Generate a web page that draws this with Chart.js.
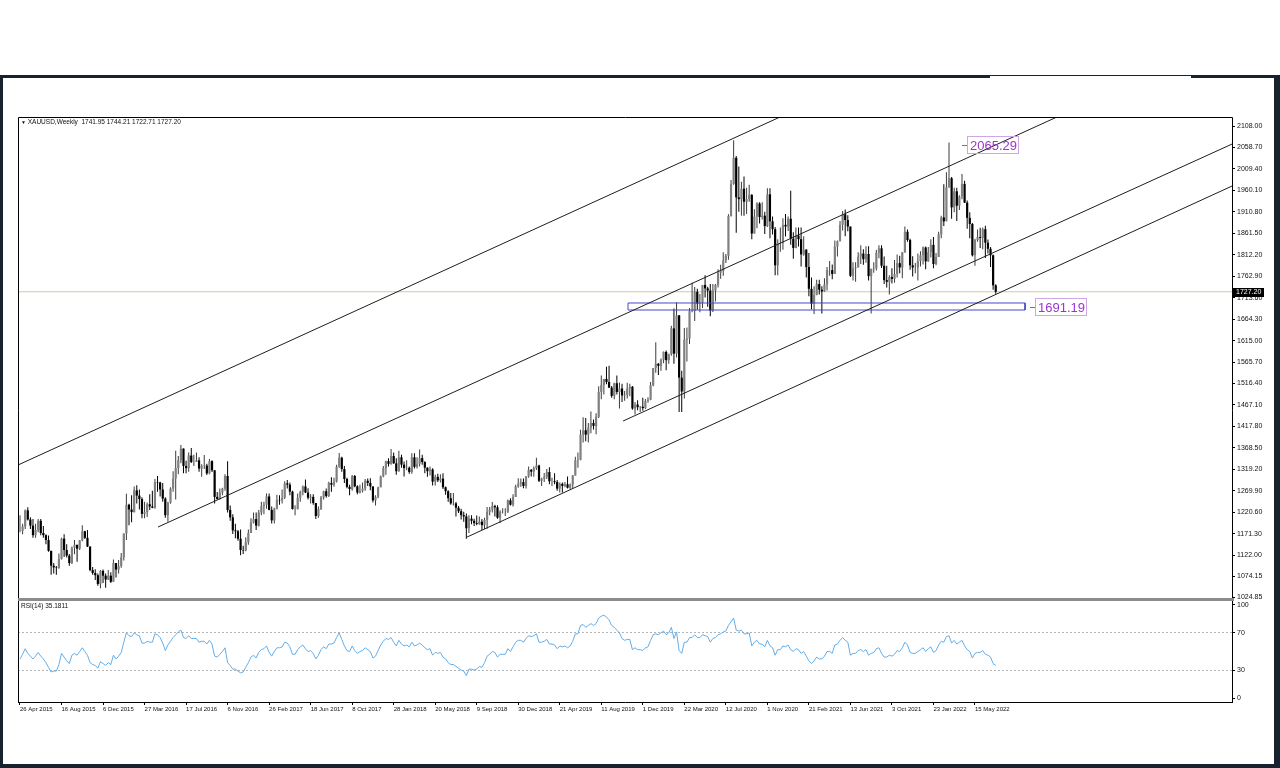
<!DOCTYPE html>
<html><head><meta charset="utf-8">
<script src="https://cdn.jsdelivr.net/npm/chart.js@4.4.0/dist/chart.umd.min.js"></script>
<style>
html,body{margin:0;padding:0;background:#fff;width:1280px;height:768px;overflow:hidden;font-family:"Liberation Sans",Arial,sans-serif;}
canvas{position:absolute;left:0;top:0;}
.frame{position:absolute;background:#17222f;}
.txt{position:absolute;font-size:6.5px;line-height:7px;color:#111;white-space:nowrap;}
</style></head><body>
<div class="frame" style="left:0;top:75px;width:990px;height:3px"></div>
<div class="frame" style="left:990px;top:75px;width:201px;height:1px"></div>
<div class="frame" style="left:1191px;top:75px;width:89px;height:3px"></div>
<div class="frame" style="left:0;top:75px;width:3px;height:693px"></div>
<div class="frame" style="left:1274px;top:75px;width:6px;height:693px"></div>
<div class="frame" style="left:0;top:764px;width:1280px;height:4px"></div>
<canvas id="price" width="1280" height="768"></canvas>
<canvas id="rsi" width="1280" height="768"></canvas>
<div class="txt" style="left:21px;top:118px"><span style="font-size:5px">&#9660;</span> XAUUSD,Weekly&nbsp; 1741.95 1744.21 1722.71 1727.20</div>
<div class="txt" style="left:21px;top:602px">RSI(14) 35.1811</div>
<script>
// ---------- data ----------
const tickLabels = ['26 Apr 2015','16 Aug 2015','6 Dec 2015','27 Mar 2016','17 Jul 2016','6 Nov 2016','26 Feb 2017','18 Jun 2017','8 Oct 2017','28 Jan 2018','20 May 2018','9 Sep 2018','30 Dec 2018','21 Apr 2019','11 Aug 2019','1 Dec 2019','22 Mar 2020','12 Jul 2020','1 Nov 2020','21 Feb 2021','13 Jun 2021','3 Oct 2021','23 Jan 2022','15 May 2022'];
const tickStep = 16;
const priceTickLabels = ['2108.00','2058.70','2009.40','1960.10','1910.80','1861.50','1812.20','1762.90','1713.60','1664.30','1615.00','1565.70','1516.40','1467.10','1417.80','1368.50','1319.20','1269.90','1220.60','1171.30','1122.00','1074.15','1024.85'];
const rsiTicks = [0, 30, 70, 100];

const opens = [1178,1178,1188,1225,1204,1190,1168,1180,1201,1173,
1168,1157,1132,1098,1094,1093,1113,1160,1134,1121,
1104,1139,1146,1137,1156,1177,1162,1142,1088,1081,
1076,1056,1086,1075,1066,1075,1061,1104,1089,1097,
1117,1172,1238,1227,1221,1271,1259,1251,1217,1221,
1239,1234,1231,1290,1289,1273,1252,1214,1243,1275,
1298,1322,1340,1367,1327,1322,1351,1336,1336,1340,
1321,1327,1328,1310,1338,1317,1256,1251,1266,1275,
1304,1226,1209,1179,1177,1160,1134,1133,1152,1173,
1197,1205,1190,1220,1234,1238,1257,1226,1202,1229,
1249,1248,1254,1287,1284,1268,1228,1228,1254,1268,
1280,1266,1254,1256,1242,1212,1228,1255,1269,1258,
1288,1284,1291,1325,1346,1320,1297,1279,1274,1304,
1280,1266,1270,1275,1293,1288,1280,1248,1256,1278,
1303,1322,1338,1332,1350,1333,1315,1347,1330,1322,
1323,1313,1347,1325,1332,1345,1336,1323,1315,1319,
1291,1302,1294,1298,1278,1269,1253,1241,1241,1231,
1223,1214,1211,1184,1206,1201,1196,1194,1199,1191,
1203,1222,1227,1235,1232,1208,1222,1222,1222,1248,
1238,1256,1280,1287,1290,1281,1303,1318,1314,1322,
1328,1293,1298,1302,1313,1292,1292,1290,1275,1286,
1281,1285,1277,1284,1305,1340,1341,1399,1409,1399,
1415,1426,1419,1440,1497,1513,1527,1520,1507,1488,
1517,1497,1505,1489,1490,1505,1509,1459,1468,1462,
1463,1460,1476,1479,1512,1552,1562,1557,1571,1589,
1570,1584,1643,1585,1673,1530,1498,1617,1620,1683,
1683,1727,1700,1702,1743,1735,1730,1684,1730,1743,
1771,1775,1799,1810,1901,1975,2035,1944,1940,1964,
1934,1940,1950,1861,1900,1930,1899,1902,1878,1951,
1889,1871,1788,1839,1839,1881,1877,1895,1849,1828,
1856,1848,1813,1824,1784,1734,1700,1720,1745,1732,
1728,1744,1777,1777,1768,1831,1843,1881,1905,1892,
1877,1764,1781,1783,1808,1815,1802,1814,1763,1780,
1781,1817,1827,1787,1754,1750,1761,1757,1768,1793,
1783,1818,1865,1846,1788,1783,1783,1798,1811,1829,
1797,1818,1835,1791,1807,1859,1898,1889,1967,1988,
1921,1958,1925,1946,1975,1932,1897,1883,1811,1846,
1853,1851,1871,1840,1826,1811,1741.95];

const highs = [1214,1194,1227,1232,1209,1205,1194,1205,1205,1189,
1170,1167,1132,1104,1097,1126,1162,1170,1147,1125,
1142,1157,1146,1157,1191,1178,1180,1142,1095,1090,
1080,1088,1089,1080,1088,1083,1112,1104,1111,1127,
1172,1263,1240,1260,1280,1283,1273,1255,1245,1243,
1262,1270,1297,1304,1291,1288,1255,1245,1278,1315,
1362,1350,1375,1367,1339,1358,1368,1353,1358,1347,
1331,1352,1332,1343,1340,1318,1267,1275,1277,1308,
1338,1236,1216,1194,1180,1181,1144,1163,1181,1207,
1220,1220,1226,1245,1245,1264,1264,1234,1231,1261,
1260,1273,1292,1295,1289,1270,1237,1264,1270,1282,
1296,1276,1262,1262,1242,1234,1258,1270,1275,1291,
1301,1300,1330,1357,1348,1327,1300,1284,1306,1306,
1283,1284,1289,1297,1298,1299,1280,1260,1279,1305,
1327,1339,1345,1366,1358,1345,1362,1353,1337,1340,
1326,1356,1356,1347,1365,1353,1338,1324,1326,1322,
1307,1309,1308,1310,1280,1271,1265,1265,1244,1235,
1229,1222,1218,1214,1214,1206,1213,1211,1205,1208,
1233,1233,1244,1238,1237,1225,1230,1230,1250,1253,
1262,1284,1299,1298,1298,1304,1326,1320,1326,1346,
1330,1300,1311,1320,1324,1300,1310,1295,1289,1289,
1290,1303,1287,1306,1348,1358,1410,1439,1437,1426,
1452,1434,1448,1510,1535,1527,1555,1557,1511,1518,
1535,1519,1516,1499,1518,1516,1511,1474,1478,1465,
1484,1481,1485,1520,1552,1611,1563,1574,1590,1592,
1585,1649,1689,1703,1674,1546,1644,1645,1690,1748,
1738,1734,1722,1743,1765,1739,1745,1745,1745,1779,
1789,1818,1814,1905,1984,2075,2039,2015,1980,1992,
1966,1973,1951,1917,1933,1933,1933,1911,1965,1965,
1900,1876,1848,1875,1896,1906,1900,1959,1864,1875,
1875,1875,1855,1825,1816,1760,1740,1755,1755,1740,
1758,1784,1798,1790,1845,1845,1890,1913,1916,1903,
1877,1795,1795,1818,1834,1825,1832,1832,1780,1795,
1823,1834,1834,1808,1787,1765,1781,1800,1813,1810,
1818,1877,1870,1849,1809,1793,1815,1820,1831,1831,
1830,1848,1853,1816,1865,1902,1974,2002,2070,1991,
1966,1966,1949,1998,1982,1937,1910,1885,1849,1870,
1874,1875,1879,1847,1830,1813,1744.21];

const lows = [1175,1170,1182,1202,1182,1162,1162,1175,1168,1162,
1147,1130,1077,1080,1077,1091,1112,1118,1117,1098,
1102,1124,1107,1134,1154,1159,1141,1085,1077,1065,
1052,1046,1058,1047,1065,1058,1061,1071,1080,1093,
1110,1157,1191,1198,1220,1241,1227,1207,1207,1210,
1226,1230,1229,1268,1257,1245,1208,1199,1240,1268,
1250,1308,1333,1310,1310,1314,1334,1327,1336,1314,
1302,1320,1306,1308,1313,1241,1250,1250,1260,1270,
1220,1201,1171,1161,1155,1122,1125,1131,1146,1173,
1195,1180,1188,1214,1216,1229,1225,1195,1195,1227,
1238,1241,1251,1275,1260,1227,1214,1227,1245,1260,
1265,1250,1241,1238,1205,1208,1226,1250,1254,1256,
1268,1279,1289,1323,1314,1288,1276,1260,1270,1278,
1262,1264,1266,1270,1281,1271,1243,1236,1253,1278,
1301,1307,1326,1330,1332,1307,1314,1323,1303,1317,
1309,1309,1321,1321,1326,1330,1310,1302,1305,1282,
1282,1290,1289,1274,1261,1245,1238,1236,1211,1219,
1204,1199,1160,1173,1193,1189,1191,1192,1180,1182,
1183,1214,1220,1211,1206,1196,1218,1212,1219,1236,
1234,1256,1277,1279,1276,1275,1300,1303,1302,1318,
1290,1281,1290,1297,1285,1281,1285,1270,1266,1266,
1278,1275,1273,1276,1305,1323,1340,1381,1384,1381,
1402,1411,1400,1437,1480,1491,1515,1506,1484,1480,
1491,1459,1474,1477,1482,1487,1456,1445,1455,1451,
1454,1458,1472,1478,1510,1541,1536,1546,1563,1547,
1562,1580,1562,1576,1451,1451,1482,1567,1607,1680,
1660,1686,1680,1690,1714,1693,1671,1681,1705,1737,
1757,1764,1793,1801,1900,1973,1863,1911,1902,1902,
1906,1934,1848,1861,1873,1884,1893,1860,1876,1850,
1859,1765,1765,1819,1824,1854,1867,1835,1803,1827,
1831,1785,1810,1760,1717,1687,1676,1719,1721,1677,
1727,1730,1764,1756,1768,1808,1843,1868,1855,1866,
1761,1753,1750,1783,1791,1789,1794,1753,1677,1771,
1776,1804,1782,1745,1737,1721,1746,1748,1760,1770,
1758,1817,1842,1778,1762,1770,1753,1785,1790,1779,
1796,1806,1781,1788,1807,1850,1878,1889,1966,1895,
1910,1890,1915,1940,1931,1872,1850,1808,1787,1842,
1828,1825,1805,1815,1784,1732,1722.71];

const closes = [1178,1188,1225,1204,1190,1168,1180,1201,1173,1168,
1157,1132,1098,1094,1093,1113,1160,1134,1121,1104,
1139,1146,1137,1156,1177,1162,1142,1088,1081,1076,
1056,1086,1075,1066,1075,1061,1104,1089,1097,1117,
1172,1238,1227,1221,1271,1259,1251,1217,1221,1239,
1234,1231,1290,1289,1273,1252,1214,1243,1275,1298,
1322,1340,1367,1327,1322,1351,1336,1336,1340,1321,
1327,1328,1310,1338,1317,1256,1251,1266,1275,1304,
1226,1209,1179,1177,1160,1134,1133,1152,1173,1197,
1205,1190,1220,1234,1238,1257,1226,1202,1229,1249,
1248,1254,1287,1284,1268,1228,1228,1254,1268,1280,
1266,1254,1256,1242,1212,1228,1255,1269,1258,1288,
1284,1291,1325,1346,1320,1297,1279,1274,1304,1280,
1266,1270,1275,1293,1288,1280,1248,1256,1278,1303,
1322,1338,1332,1350,1333,1315,1347,1330,1322,1323,
1313,1347,1325,1332,1345,1336,1323,1315,1319,1291,
1302,1294,1298,1278,1269,1253,1241,1241,1231,1223,
1214,1211,1184,1206,1201,1196,1194,1199,1191,1203,
1222,1227,1235,1232,1208,1222,1222,1222,1248,1238,
1256,1280,1287,1290,1281,1303,1318,1314,1322,1328,
1293,1298,1302,1313,1292,1292,1290,1275,1286,1281,
1285,1277,1284,1305,1340,1341,1399,1409,1399,1415,
1426,1419,1440,1497,1513,1527,1520,1507,1488,1517,
1497,1505,1489,1490,1505,1509,1459,1468,1462,1463,
1460,1476,1479,1512,1552,1562,1557,1571,1589,1570,
1584,1643,1585,1673,1530,1498,1617,1620,1683,1683,
1727,1700,1702,1743,1735,1730,1684,1730,1743,1771,
1775,1799,1810,1901,1975,2035,1944,1940,1964,1934,
1940,1950,1861,1900,1930,1899,1902,1878,1951,1889,
1871,1788,1839,1839,1881,1877,1895,1849,1828,1856,
1848,1813,1824,1784,1734,1700,1720,1745,1732,1728,
1744,1777,1777,1768,1831,1843,1881,1905,1892,1877,
1764,1781,1783,1808,1815,1802,1814,1763,1780,1781,
1817,1827,1787,1754,1750,1761,1757,1768,1793,1783,
1818,1865,1846,1788,1783,1783,1798,1811,1829,1797,
1818,1835,1791,1807,1859,1898,1889,1967,1988,1921,
1958,1925,1946,1975,1932,1897,1883,1811,1846,1853,
1851,1871,1840,1826,1811,1742,1727.20];

const rsiValues = [42,47,53,48,45,42,45,49,45,42,
38,33,28,29,29,36,48,44,40,37,
46,48,46,50,54,50,46,38,36,35,
32,39,37,35,38,36,46,42,45,49,
60,70,67,66,70,68,67,59,59,61,
60,60,69,68,65,59,51,57,61,65,
68,71,73,65,64,67,64,64,64,60,
61,61,58,62,58,45,44,47,50,54,
38,35,31,31,29,27,28,33,38,44,
46,43,49,52,53,56,49,45,50,54,
54,55,60,59,55,47,47,52,55,57,
53,50,51,48,42,46,52,55,53,58,
58,59,65,70,63,56,51,50,56,51,
48,50,51,54,52,50,43,45,51,57,
61,64,63,65,60,56,62,58,56,57,
55,60,56,57,59,57,54,52,53,46,
49,48,49,44,42,38,36,36,34,32,
30,29,24,31,31,30,31,34,33,38,
45,47,50,49,44,47,47,47,53,50,
55,60,62,62,60,64,67,66,67,69,
60,60,61,63,58,58,57,53,56,55,
56,54,56,61,69,69,78,79,76,78,
80,78,80,86,88,89,87,84,78,76,
73,70,64,62,63,63,52,54,52,52,
51,54,55,62,68,69,68,70,72,68,
70,76,64,71,51,48,60,60,65,65,
68,65,65,68,67,66,60,64,65,68,
69,71,72,78,82,86,73,72,73,69,
69,70,56,60,62,58,58,55,62,56,
54,46,52,52,56,55,57,52,50,53,
52,48,50,45,40,37,40,44,42,42,
45,50,50,48,57,58,62,65,62,60,
46,48,48,51,52,50,52,46,48,49,
53,54,48,44,44,46,45,47,51,50,
54,60,57,49,48,48,50,52,54,50,
53,55,49,51,57,61,60,66,67,59,
62,58,60,62,56,52,50,43,48,49,
49,51,47,46,44,37,35.18];

const lastPrice = 1727.20;
const levelValues = [2065.29, 1691.19];
const levelAnchorIndex = [363, 389.2];
// trend lines: [startIndex, startPrice, endIndex, endPrice]
const trendLines = [
  [-0.77, 1329.2, 292.9, 2128.7],
  [53.2, 1186.8, 399.6, 2128.7],
  [232.4, 1430.3, 467.1, 2066.6],
  [172.3, 1163.8, 467.1, 1970.2]
];
// support zone: [fromIndex, toIndex, lowPrice, highPrice]
const zone = [234.3, 387.3, 1685.3, 1701.4];

// ---------- chart setup ----------
const X_MIN = -0.77, X_MAX = 467.05;
const tickIdx = tickLabels.map((_, i) => i * tickStep);
const priceTickValues = priceTickLabels.map(parseFloat);
const FONT = '"Liberation Sans", Arial, sans-serif';

const up = closes.map((c, i) => c >= opens[i]);
const wickData = highs.map((h, i) => ({x: i, y: [lows[i], h]}));
const bodyData = closes.map((c, i) => ({x: i, y: [Math.min(opens[i], c), Math.max(opens[i], c)]}));

const lineDs = (pts, color, order) => ({
  type: 'line', data: pts, borderColor: color, borderWidth: 1, pointRadius: 0,
  tension: 0, fill: false, order: order
});

const datasets = [
  {type: 'bar', data: wickData, grouped: false, barThickness: 1, inflateAmount: 0,
   backgroundColor: up.map(u => u ? '#3c3c3c' : '#000'), order: 3},
  {type: 'bar', data: bodyData, grouped: false, barThickness: 2.2, inflateAmount: 0,
   backgroundColor: up.map(u => u ? '#808080' : '#000'), order: 2},
  lineDs([{x: X_MIN, y: lastPrice}, {x: X_MAX, y: lastPrice}], '#d4c6a6', 5),
  lineDs([{x: zone[0], y: zone[3]}, {x: zone[1], y: zone[3]}, {x: zone[1], y: zone[2]}, {x: zone[0], y: zone[2]}, {x: zone[0], y: zone[3]}], '#4646cc', 1)
];
trendLines.forEach(t => datasets.push(lineDs([{x: t[0], y: t[1]}, {x: t[2], y: t[3]}], '#1e1e1e', 0)));

const priceDecor = {
  id: 'priceDecor',
  afterDraw(chart) {
    const ctx = chart.ctx, a = chart.chartArea, ys = chart.scales.y, xs = chart.scales.x;
    ctx.save();
    ctx.strokeStyle = '#000'; ctx.lineWidth = 1;
    ctx.beginPath();
    ctx.moveTo(a.left + 0.5, 703); ctx.lineTo(a.left + 0.5, a.top + 0.5);
    ctx.lineTo(a.right + 0.5, a.top + 0.5); ctx.lineTo(a.right + 0.5, 703);
    ctx.stroke();
    ctx.fillStyle = '#8c8c8c';
    ctx.fillRect(a.left, a.bottom - 1, a.right - a.left + 2, 3);
    // last price tag
    const py = Math.round(ys.getPixelForValue(lastPrice));
    ctx.fillStyle = '#000';
    ctx.fillRect(a.right + 1, py - 4, 31, 9);
    ctx.fillStyle = '#fff';
    ctx.font = '7px ' + FONT; ctx.textBaseline = 'middle'; ctx.textAlign = 'left';
    ctx.fillText(lastPrice.toFixed(2), a.right + 4, py + 0.5);
    // level labels
    ctx.font = '13px ' + FONT;
    levelValues.forEach((v, i) => {
      const x = Math.round(xs.getPixelForValue(levelAnchorIndex[i]));
      const y = Math.round(ys.getPixelForValue(v));
      const txt = v.toFixed(2);
      const w = ctx.measureText(txt).width;
      ctx.strokeStyle = '#a64dd0';
      ctx.beginPath(); ctx.moveTo(x, y + 0.5); ctx.lineTo(x + 6, y + 0.5); ctx.stroke();
      ctx.strokeStyle = '#cfa6e6';
      ctx.strokeRect(x + 5.5, y - 8.5, w + 4, 17);
      ctx.fillStyle = '#9a36cc';
      ctx.fillText(txt, x + 8, y + 1);
    });
    ctx.restore();
  }
};

Chart.defaults.font.family = FONT;
Chart.defaults.color = '#111';

new Chart(document.getElementById('price'), {
  type: 'bar',
  data: {datasets},
  options: {
    responsive: false, animation: false, devicePixelRatio: 1, events: [],
    layout: {padding: {left: 18, right: 0, top: 117, bottom: 169}},
    plugins: {legend: {display: false}, tooltip: {enabled: false}},
    scales: {
      x: {type: 'linear', display: false, min: X_MIN, max: X_MAX, offset: false},
      y: {
        position: 'right', min: 1021.4, max: 2128.68,
        afterBuildTicks: s => { s.ticks = priceTickValues.map(v => ({value: v})); },
        afterFit: s => { s.width = 48; },
        grid: {drawOnChartArea: false, drawTicks: true, tickLength: 3, color: '#000'},
        border: {display: false},
        ticks: {autoSkip: false, padding: 2, font: {size: 7}, color: '#111',
          callback: (v, i) => priceTickLabels[i]}
      }
    }
  },
  plugins: [priceDecor]
});

const rsiDecor = {
  id: 'rsiDecor',
  afterDraw(chart) {
    const ctx = chart.ctx, a = chart.chartArea;
    ctx.save();
    ctx.strokeStyle = '#000'; ctx.lineWidth = 1;
    ctx.beginPath();
    ctx.moveTo(a.left + 0.5, a.top); ctx.lineTo(a.left + 0.5, a.bottom + 0.5);
    ctx.lineTo(a.right + 0.5, a.bottom + 0.5); ctx.lineTo(a.right + 0.5, a.top);
    ctx.stroke();
    ctx.restore();
  }
};

new Chart(document.getElementById('rsi'), {
  type: 'line',
  data: {datasets: [{
    data: rsiValues.map((v, i) => ({x: i, y: v})),
    borderColor: '#62aeea', borderWidth: 1, pointRadius: 0, tension: 0, fill: false
  }]},
  options: {
    responsive: false, animation: false, devicePixelRatio: 1, events: [],
    layout: {padding: {left: 18, right: 0, top: 601, bottom: 52}},
    plugins: {legend: {display: false}, tooltip: {enabled: false}},
    scales: {
      x: {
        type: 'linear', min: X_MIN, max: X_MAX, offset: false,
        afterBuildTicks: s => { s.ticks = tickIdx.map(v => ({value: v})); },
        afterFit: s => { s.height = 14; },
        grid: {drawOnChartArea: false, drawTicks: true, tickLength: 3, color: '#000'},
        border: {display: false},
        ticks: {autoSkip: false, maxRotation: 0, align: 'start', padding: 1,
          font: {size: 6}, color: '#111',
          callback: (v, i) => tickLabels[i]}
      },
      y: {
        position: 'right', min: -4.3, max: 104.3,
        afterBuildTicks: s => { s.ticks = rsiTicks.map(v => ({value: v})); },
        afterFit: s => { s.width = 48; },
        grid: {drawOnChartArea: true, drawTicks: true, tickLength: 3,
          color: c => (c.tick && (c.tick.value === 30 || c.tick.value === 70)) ? '#b4b4b4' : 'rgba(0,0,0,0)',
          tickColor: '#000'},
        border: {display: false, dash: [2, 2]},
        ticks: {autoSkip: false, padding: 2, font: {size: 7}, color: '#111',
          callback: v => String(v)}
      }
    }
  },
  plugins: [rsiDecor]
});
</script>
</body></html>
